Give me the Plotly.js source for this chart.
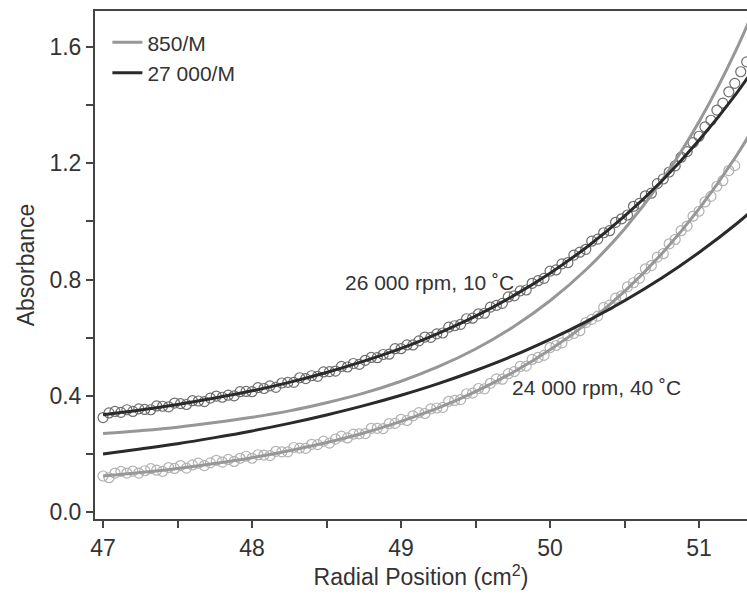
<!DOCTYPE html>
<html>
<head>
<meta charset="utf-8">
<script src="https://cdn.plot.ly/plotly-3.0.1.min.js"></script>
<style>html,body{margin:0;padding:0;background:#fff;}#chart{width:747px;height:597px;}</style>
</head>
<body>
<div id="chart"></div>
<script>
// Radial position (cm^2) of the scan points
const xData = [47.00,47.04,47.08,47.12,47.16,47.20,47.24,47.28,47.32,47.36,47.40,47.44,47.48,47.52,47.56,47.60,47.64,47.68,47.72,47.76,47.80,47.84,47.88,47.92,47.96,
48.00,48.04,48.08,48.12,48.16,48.20,48.24,48.28,48.32,48.36,48.40,48.44,48.48,48.52,48.56,48.60,48.64,48.68,48.72,48.76,48.80,48.84,48.88,48.92,48.96,
49.00,49.04,49.08,49.12,49.16,49.20,49.24,49.28,49.32,49.36,49.40,49.44,49.48,49.52,49.56,49.60,49.64,49.68,49.72,49.76,49.80,49.84,49.88,49.92,49.96,
50.00,50.04,50.08,50.12,50.16,50.20,50.24,50.28,50.32,50.36,50.40,50.44,50.48,50.52,50.56,50.60,50.64,50.68,50.72,50.76,50.80,50.84,50.88,50.92,50.96,
51.00,51.04,51.08,51.12,51.16,51.20,51.24,51.28,51.32];

// 26 000 rpm, 10 °C scan (dark circles)
const abs26k = [0.325,0.341,0.346,0.343,0.352,0.346,0.355,0.353,0.352,0.365,0.364,0.362,0.375,0.373,0.370,0.383,0.382,0.380,0.392,0.399,0.395,0.402,0.400,0.414,0.415,
0.414,0.428,0.425,0.434,0.429,0.444,0.446,0.446,0.462,0.459,0.469,0.467,0.482,0.483,0.485,0.501,0.499,0.511,0.508,0.522,0.532,0.531,0.542,0.543,0.562,
0.562,0.575,0.575,0.589,0.602,0.601,0.613,0.616,0.636,0.641,0.646,0.665,0.667,0.682,0.684,0.705,0.711,0.718,0.740,0.744,0.761,0.764,0.787,0.796,0.804,
0.829,0.833,0.854,0.858,0.884,0.894,0.904,0.932,0.939,0.961,0.968,0.997,1.009,1.022,1.052,1.062,1.088,1.097,1.130,1.146,1.170,1.191,1.221,1.240,1.271,
1.293,1.325,1.348,1.383,1.407,1.446,1.475,1.515,1.549];

// 24 000 rpm, 40 °C scan (light circles)
const abs24k = [0.124,0.118,0.134,0.140,0.134,0.141,0.134,0.142,0.149,0.144,0.140,0.153,0.150,0.160,0.151,0.162,0.168,0.160,0.169,0.178,0.172,0.181,0.174,0.185,0.192,
0.185,0.197,0.196,0.194,0.209,0.207,0.207,0.222,0.220,0.219,0.233,0.232,0.244,0.237,0.251,0.261,0.255,0.268,0.269,0.270,0.288,0.288,0.287,0.304,0.305,
0.319,0.315,0.331,0.342,0.339,0.355,0.358,0.360,0.381,0.384,0.387,0.407,0.409,0.425,0.424,0.443,0.458,0.457,0.476,0.483,0.501,0.502,0.525,0.532,0.539,
0.566,0.573,0.582,0.607,0.615,0.624,0.652,0.663,0.674,0.704,0.712,0.736,0.744,0.775,0.789,0.804,0.837,0.848,0.877,0.889,0.923,0.938,0.968,0.984,1.018,
1.035,1.067,1.086,1.121,1.140,1.175,1.192,null,null];

// Model curves
const xFit = [47.00,47.25,47.50,47.75,48.00,48.25,48.50,48.75,49.00,49.25,49.50,49.75,50.00,50.25,50.50,50.75,51.00,51.25,51.50];
const fit27kHigh = [0.335,0.351,0.370,0.392,0.417,0.446,0.480,0.519,0.563,0.615,0.674,0.743,0.822,0.913,1.018,1.139,1.279,1.440,1.626];
const fit850High = [0.270,0.280,0.292,0.308,0.326,0.348,0.376,0.409,0.450,0.500,0.561,0.636,0.727,0.838,0.974,1.140,1.343,1.591,1.893];
const fit850Low  = [0.124,0.136,0.150,0.167,0.187,0.211,0.239,0.272,0.312,0.358,0.414,0.480,0.558,0.650,0.759,0.889,1.043,1.225,1.441];
const fit27kLow  = [0.200,0.217,0.235,0.256,0.279,0.305,0.334,0.366,0.402,0.442,0.487,0.537,0.594,0.657,0.727,0.805,0.893,0.991,1.101];

const legendNames = ['850/M', '27 000/M'];
const labels = ['26 000 rpm, 10 \u02DAC', '24 000 rpm, 40 \u02DAC'];
const labelX = [49.19, 50.31];
const labelY = [0.79, 0.427];

const FONT = 'Liberation Sans, Arial, Helvetica, sans-serif';
const GRAY = '#979797';
const DARK = '#2a2a2a';

const traces = [
  {x: xData, y: abs26k, mode: 'markers', type: 'scatter', showlegend: false,
   marker: {symbol: 'circle-open', size: 10, color: '#555555', line: {width: 1.2}}, opacity: 0.85},
  {x: xData, y: abs24k, mode: 'markers', type: 'scatter', showlegend: false,
   marker: {symbol: 'circle-open', size: 10, color: '#aaaaaa', line: {width: 1.2}}, opacity: 0.9},
  {x: xFit, y: fit850High, mode: 'lines', type: 'scatter', name: legendNames[0], legendgroup: 'a',
   line: {color: GRAY, width: 3, shape: 'spline'}},
  {x: xFit, y: fit850Low, mode: 'lines', type: 'scatter', name: legendNames[0], legendgroup: 'a', showlegend: false,
   line: {color: GRAY, width: 3, shape: 'spline'}},
  {x: xFit, y: fit27kHigh, mode: 'lines', type: 'scatter', name: legendNames[1], legendgroup: 'b',
   line: {color: DARK, width: 3, shape: 'spline'}},
  {x: xFit, y: fit27kLow, mode: 'lines', type: 'scatter', name: legendNames[1], legendgroup: 'b', showlegend: false,
   line: {color: DARK, width: 3, shape: 'spline'}}
];

const layout = {
  width: 747, height: 597,
  margin: {l: 95, r: 0, t: 11, b: 78},
  paper_bgcolor: '#fff', plot_bgcolor: '#fff',
  font: {family: FONT, color: '#333', size: 20},
  showlegend: true,
  legend: {x: 0.019, y: 0.978, xanchor: 'left', yanchor: 'top', bgcolor: 'rgba(0,0,0,0)',
           font: {family: FONT, size: 21, color: '#333'}, tracegroupgap: 0, itemwidth: 30},
  xaxis: {
    range: [46.946, 51.322], showgrid: false, zeroline: false,
    showline: true, linecolor: '#444', linewidth: 2, mirror: true,
    ticks: 'outside', ticklen: 7, tickwidth: 2, tickcolor: '#444',
    tickvals: [47, 48, 49, 50, 51], ticktext: ['47', '48', '49', '50', '51'],
    minor: {tickvals: [47.5, 48.5, 49.5, 50.5], ticks: 'outside', ticklen: 7, tickwidth: 2, tickcolor: '#444'},
    tickfont: {family: FONT, size: 23, color: '#333'},
    title: {text: 'Radial Position (cm<sup>2</sup>)', font: {family: FONT, size: 23, color: '#333'}, standoff: 6}
  },
  yaxis: {
    range: [-0.024, 1.724], showgrid: false, zeroline: false,
    showline: true, linecolor: '#444', linewidth: 2, mirror: false,
    ticks: 'outside', ticklen: 7, tickwidth: 2, tickcolor: '#444',
    tickvals: [0, 0.4, 0.8, 1.2, 1.6], ticktext: ['0.0', '0.4', '0.8', '1.2', '1.6'],
    minor: {tickvals: [0.2, 0.6, 1.0, 1.4], ticks: 'outside', ticklen: 7, tickwidth: 2, tickcolor: '#444'},
    tickfont: {family: FONT, size: 23, color: '#333'},
    title: {text: 'Absorbance', font: {family: FONT, size: 23, color: '#333'}, standoff: 8}
  },
  annotations: labels.map((t, i) => ({
    x: labelX[i], y: labelY[i], xref: 'x', yref: 'y', text: t, showarrow: false,
    font: {family: FONT, size: 21, color: '#333'}
  }))
};

Plotly.newPlot('chart', traces, layout, {displayModeBar: false, staticPlot: true});
</script>
</body>
</html>
